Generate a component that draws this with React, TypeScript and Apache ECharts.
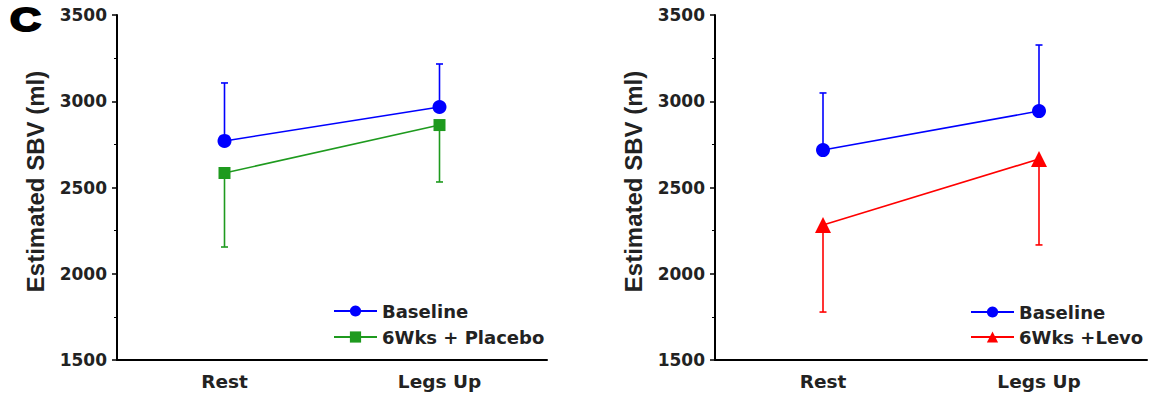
import React, { useEffect, useRef } from "react";
import * as echarts from "echarts";

const categories = ["Rest", "Legs Up"];
const yTicks = { min: 1500, max: 3500, interval: 500 };

// Left panel
const baselineA = [2770, 2967];
const baselineAHigh = [3106, 3216];
const placebo = [2584, 2862];
const placeboLow = [2155, 2532];

// Right panel
const baselineB = [2717, 2943];
const baselineBHigh = [3048, 3326];
const levo = [2283, 2665];
const levoLow = [1778, 2167];

const BLUE = "#0000ff";
const GREEN = "#1e9a1e";
const RED = "#ff0000";
const FONT = "DejaVu Sans, Verdana, sans-serif";
const FONT2 = "Liberation Sans, Arial, sans-serif";

function errSeries(xi: number, yi: number, means: number[], ends: number[], color: string) {
  return {
    type: "custom",
    xAxisIndex: xi,
    yAxisIndex: yi,
    z: 1,
    silent: true,
    data: means.map((m, i) => [i, m, ends[i]]),
    renderItem: (params: any, api: any) => {
      const p0 = api.coord([api.value(0), api.value(1)]);
      const p1 = api.coord([api.value(0), api.value(2)]);
      return {
        type: "group",
        children: [
          { type: "line", shape: { x1: p0[0], y1: p0[1], x2: p1[0], y2: p1[1] }, style: { stroke: color, lineWidth: 1.6 } },
          { type: "line", shape: { x1: p1[0] - 3.5, y1: p1[1], x2: p1[0] + 3.5, y2: p1[1] }, style: { stroke: color, lineWidth: 1.6 } },
        ],
      };
    },
  };
}

function lineSeries(name: string, xi: number, yi: number, data: number[], color: string, symbol: string, size: number) {
  return {
    type: "line",
    name,
    xAxisIndex: xi,
    yAxisIndex: yi,
    data,
    z: 3,
    symbol,
    symbolSize: size,
    lineStyle: { color, width: 1.6 },
    itemStyle: { color },
  };
}

function xAxis(gi: number) {
  return {
    type: "category",
    gridIndex: gi,
    data: categories,
    boundaryGap: true,
    axisLine: { lineStyle: { color: "#000", width: 2 } },
    axisTick: { alignWithLabel: true, length: 4, lineStyle: { color: "#000", width: 1.5 } },
    axisLabel: { color: "#222", fontFamily: FONT, fontWeight: "bold", fontSize: 18.5, margin: 12 },
  };
}

function yAxis(gi: number) {
  return {
    type: "value",
    gridIndex: gi,
    min: yTicks.min,
    max: yTicks.max,
    interval: yTicks.interval,
    name: "Estimated SBV (ml)",
    nameLocation: "middle",
    nameGap: 70,
    nameTextStyle: { color: "#222", fontFamily: FONT2, fontWeight: "bold", fontSize: 24, padding: [0, 0, 0, 12] },
    splitLine: { show: false },
    axisLine: { show: true, lineStyle: { color: "#000", width: 2 } },
    axisTick: { show: true, length: 5, lineStyle: { color: "#000", width: 1.5 } },
    minorTick: { show: true, splitNumber: 2, length: 3, lineStyle: { color: "#000", width: 1 } },
    axisLabel: {
      color: "#222",
      fontFamily: FONT,
      fontWeight: "bold",
      fontSize: 17,
      margin: 10,
      formatter: (v: number) => String(v),
    },
  };
}

export default function App() {
  const ref = useRef<HTMLDivElement>(null);
  useEffect(() => {
    if (!ref.current) return;
    const chart = echarts.init(ref.current, null, { renderer: "svg" });
    const legendText = { color: "#222", fontFamily: FONT, fontWeight: "bold", fontSize: 18 };
    chart.setOption({
      animation: false,
      backgroundColor: "#fff",
      grid: [
        { left: 117, right: 605, top: 15, bottom: 43 },
        { left: 715, right: 5, top: 15, bottom: 43 },
      ],
      xAxis: [xAxis(0), xAxis(1)],
      yAxis: [yAxis(0), yAxis(1)],
      legend: [
        {
          orient: "vertical",
          left: 333,
          top: 302,
          padding: 0,
          itemWidth: 43,
          itemHeight: 14,
          itemGap: 8,
          textStyle: legendText,
          data: ["Baseline", "6Wks + Placebo"],
          selectedMode: false,
        },
        {
          orient: "vertical",
          left: 970,
          top: 303,
          padding: 0,
          itemWidth: 43,
          itemHeight: 14,
          itemGap: 7,
          textStyle: legendText,
          data: ["Baseline", "6Wks +Levo"],
          selectedMode: false,
        },
      ],
      graphic: [
        {
          type: "text",
          x: 10,
          y: 3,
          scaleX: 1.3,
          style: {
            text: "C",
            fontFamily: FONT2,
            fontWeight: "bold",
            fontSize: 33,
            fill: "#000",
            stroke: "#000",
            lineWidth: 2,
            verticalAlign: "top",
            align: "left",
          },
        },
      ],
      series: [
        errSeries(0, 0, baselineA, baselineAHigh, BLUE),
        errSeries(0, 0, placebo, placeboLow, GREEN),
        lineSeries("Baseline", 0, 0, baselineA, BLUE, "circle", 14),
        lineSeries("6Wks + Placebo", 0, 0, placebo, GREEN, "rect", 12),
        errSeries(1, 1, baselineB, baselineBHigh, BLUE),
        errSeries(1, 1, levo, levoLow, RED),
        lineSeries("Baseline", 1, 1, baselineB, BLUE, "circle", 14),
        lineSeries("6Wks +Levo", 1, 1, levo, RED, "triangle", 16),
      ],
    });
    return () => chart.dispose();
  }, []);
  return <div ref={ref} style={{ position: "fixed", left: 0, top: 0, width: 1152, height: 403 }} />;
}
